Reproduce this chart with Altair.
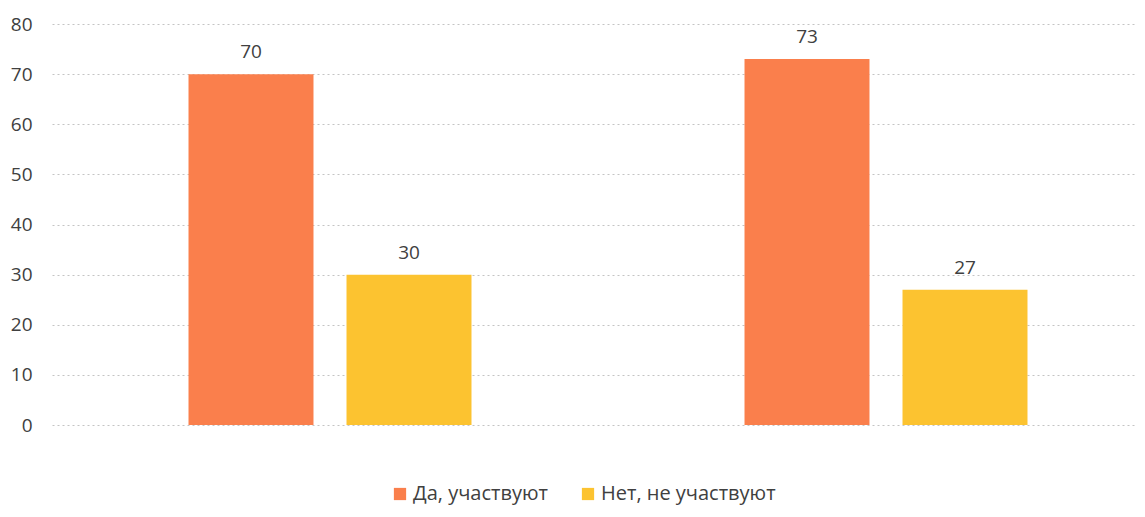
import altair as alt
import pandas as pd

groups = ["Группа 1", "Группа 2"]
answers = ["Да, участвуют", "Нет, не участвуют"]
values_yes = [70, 73]
values_no = [30, 27]
colors = ["#FA7F4C", "#FCC330"]
y_ticks = [0, 10, 20, 30, 40, 50, 60, 70, 80]

rows = []
for g, vy, vn in zip(groups, values_yes, values_no):
    rows.append({"group": g, "answer": answers[0], "value": vy})
    rows.append({"group": g, "answer": answers[1], "value": vn})
df = pd.DataFrame(rows)

FONT = "Open Sans"

x_enc = alt.X("group:N", sort=groups, axis=None,
              scale=alt.Scale(range=[0, 1112], paddingInner=0, paddingOuter=0))
xo_enc = alt.XOffset("answer:N", sort=answers,
                     scale=alt.Scale(paddingInner=0.209, paddingOuter=0.864))
y_enc = alt.Y("value:Q",
              scale=alt.Scale(domain=[0, 80], nice=False),
              axis=alt.Axis(values=y_ticks, title=None, domain=False, ticks=False,
                            labelPadding=20, labelFontSize=19, labelColor="#404040",
                            labelFont=FONT, grid=True, gridDash=[2, 3],
                            gridColor="#c4c4c4", gridWidth=1))

base = alt.Chart(df)

bars = base.mark_bar().encode(
    x=x_enc,
    xOffset=xo_enc,
    y=y_enc,
    color=alt.Color("answer:N", sort=answers,
                    scale=alt.Scale(domain=answers, range=colors),
                    legend=alt.Legend(title=None, orient="none", direction="horizontal",
                                      legendX=338, legendY=460,
                                      symbolType="square", symbolSize=150,
                                      symbolStrokeWidth=0, columnPadding=30,
                                      labelFontSize=20, labelColor="#404040",
                                      labelLimit=400,
                                      labelFont=FONT, labelOffset=3)),
)

labels = base.mark_text(baseline="bottom", dy=-12, fontSize=19, font=FONT,
                        color="#404040").encode(
    x=x_enc,
    xOffset=xo_enc,
    y=alt.Y("value:Q", scale=alt.Scale(domain=[0, 80], nice=False)),
    text=alt.Text("value:Q"),
)

chart = (bars + labels).properties(
    width=1077, height=401,
    autosize=alt.AutoSizeParams(type="none"),
    padding={"left": 44, "top": 16, "right": 8, "bottom": 84},
).configure_view(stroke=None)

chart.save("out.html", embed_options={"renderer": "svg", "actions": False})
